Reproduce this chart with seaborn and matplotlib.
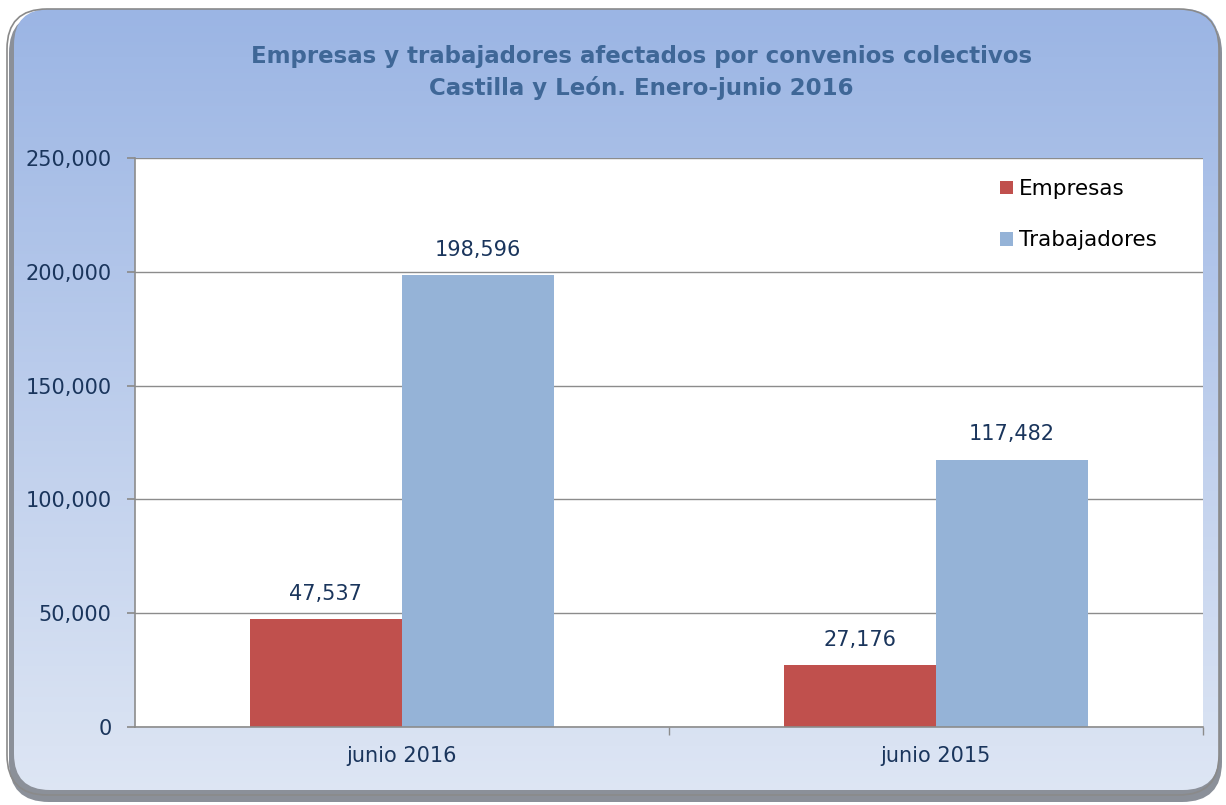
import numpy as np
import pandas as pd
import matplotlib
matplotlib.use("Agg")
import matplotlib.pyplot as plt
import seaborn as sns
from matplotlib.patches import FancyBboxPatch, Patch

categories = ["junio 2016", "junio 2015"]
series = ["Empresas", "Trabajadores"]
empresas = [47537, 27176]
trabajadores = [198596, 117482]
yticks = [0, 50000, 100000, 150000, 200000, 250000]

df = pd.DataFrame({
    "periodo": categories * 2,
    "serie": [series[0]] * 2 + [series[1]] * 2,
    "valor": empresas + trabajadores,
})

sns.set_theme(style="white")
plt.rcParams['font.family'] = ['DejaVu Sans']

fig = plt.figure(figsize=(12.26, 8.05), dpi=100)
fig.patch.set_facecolor("white")

# background with gradient and rounded border
bg = fig.add_axes([0, 0, 1, 1], zorder=0)
bg.set_xlim(0, 1226); bg.set_ylim(805, 0); bg.axis("off")
shadow = FancyBboxPatch((9, 13), 1213, 789, boxstyle="round,pad=0,rounding_size=40",
                        facecolor="#6e7480", edgecolor="none", alpha=0.8)
bg.add_patch(shadow)
grad = np.linspace(0, 1, 256).reshape(-1, 1)
top = np.array([0x9b, 0xb5, 0xe4]) / 255
bot = np.array([0xde, 0xe6, 0xf4]) / 255
img = top + (bot - top) * grad[..., None]
img = np.repeat(img, 2, axis=1)
im = bg.imshow(img, extent=[7, 1219, 795, 9], aspect="auto", zorder=1)
clip = FancyBboxPatch((14, 9), 1205, 781, boxstyle="round,pad=0,rounding_size=36",
                      facecolor="none", edgecolor="none", transform=bg.transData)
bg.add_patch(clip)
im.set_clip_path(clip)
bg.add_patch(FancyBboxPatch((7, 9), 1212, 786, boxstyle="round,pad=0,rounding_size=40",
                            facecolor="none", edgecolor="#8a8a8a", linewidth=1.2, zorder=2))

ax = fig.add_axes([135 / 1226, 1 - 727 / 805, (1203 - 135) / 1226, (727 - 158) / 805], zorder=1)
ax.set_facecolor("white")
palette = {"Empresas": "#c0504d", "Trabajadores": "#95b3d7"}
sns.barplot(data=df, x="periodo", y="valor", hue="serie", order=categories,
            hue_order=series, palette=palette, width=0.57, saturation=1,
            ax=ax, legend=False, edgecolor="none")

ax.set_ylim(0, 250000)
ax.set_xlim(-0.5, 1.5)
ax.set_yticks(yticks)
ax.set_yticklabels([f"{v:,}" for v in yticks])
ax.yaxis.grid(True, color="#8c8c8c", linewidth=1)
ax.set_axisbelow(True)
ax.set_xlabel(""); ax.set_ylabel("")
for s in ["top", "right"]:
    ax.spines[s].set_visible(False)
for s in ["left", "bottom"]:
    ax.spines[s].set_color("#8c8c8c")
    ax.spines[s].set_linewidth(1.2)
ax.tick_params(axis="y", length=6, color="#8c8c8c", direction="out", left=True,
               labelsize=15, labelcolor="#1a355c", pad=11)
ax.tick_params(axis="x", length=0, labelsize=15, labelcolor="#1a355c", pad=14)
ax.set_xticks([0, 0.5, 1, 1.5], minor=True)
ax.tick_params(axis="x", which="minor", length=6, color="#8c8c8c", bottom=True)

for cont in ax.containers:
    ax.bar_label(cont, labels=[f"{v:,.0f}" for v in cont.datavalues], padding=11,
                 fontsize=15, color="#1a355c")

handles = [Patch(facecolor=palette[s], edgecolor="none") for s in series]
leg = ax.legend(handles, series, loc="upper right", bbox_to_anchor=(0.975, 0.997),
                frameon=False, fontsize=15.5, handlelength=0.6, handleheight=0.6,
                handletextpad=0.3, labelspacing=1.45)
for t in leg.get_texts():
    t.set_color("black")

fig.text(0.523, 1 - 56 / 805, "Empresas y trabajadores afectados por convenios colectivos",
         ha="center", va="center", fontsize=16.5, fontweight="bold", color="#3f6797")
fig.text(0.523, 1 - 88 / 805, "Castilla y León. Enero-junio 2016",
         ha="center", va="center", fontsize=16.5, fontweight="bold", color="#3f6797")

fig.savefig("out.png", dpi=100)
